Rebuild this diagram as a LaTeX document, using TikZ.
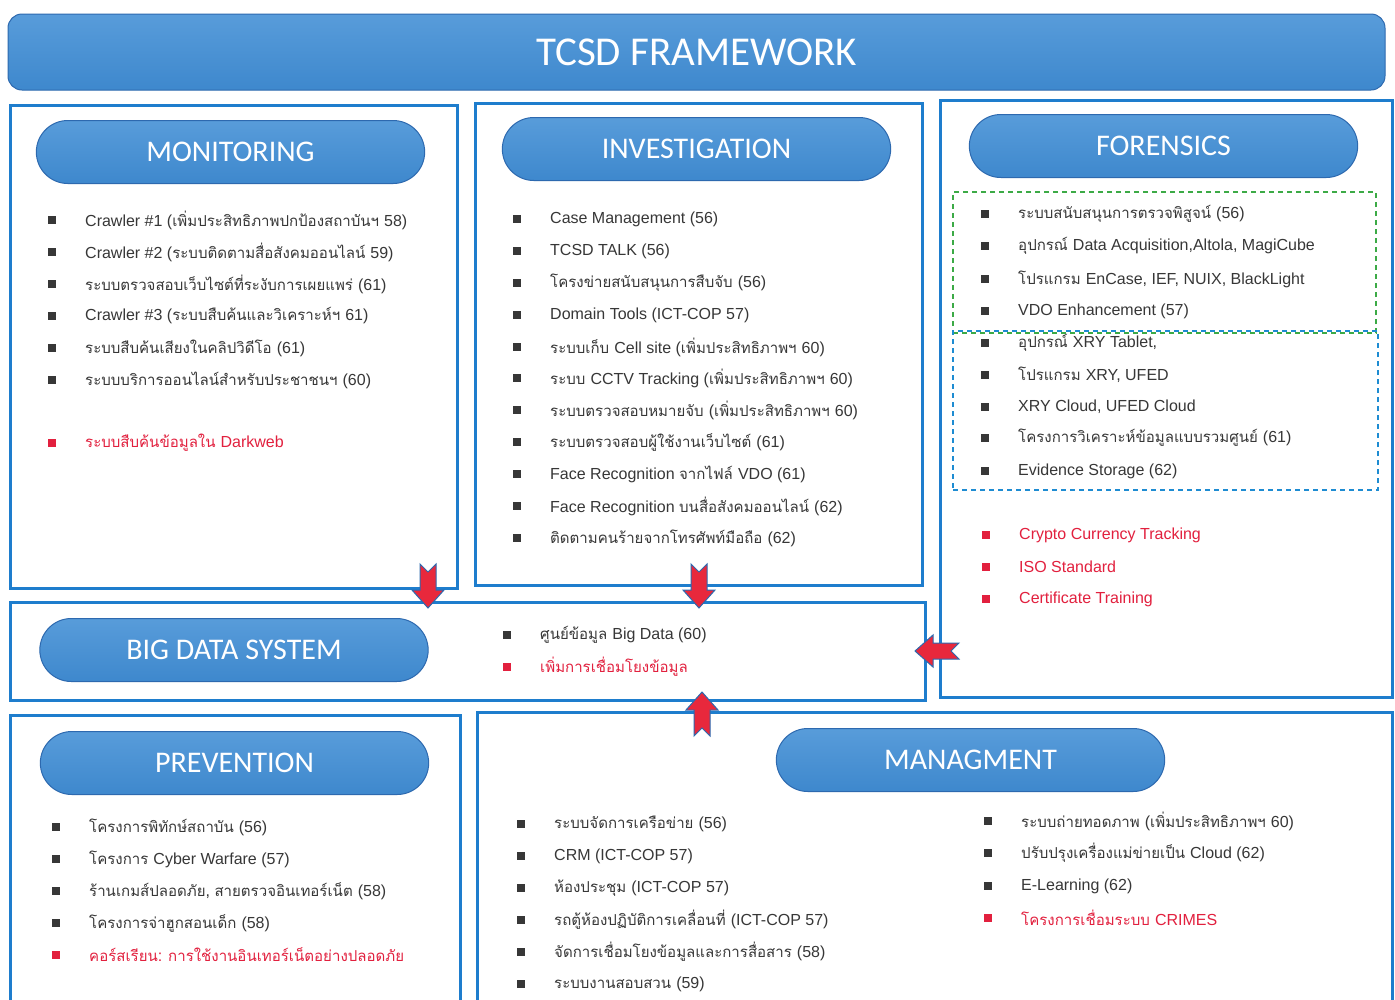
\documentclass[tikz,border=0pt]{standalone}
\usepackage{fontspec}
\usetikzlibrary{shapes.misc}
\setmainfont{Liberation Sans}
\newfontfamily\thaifont[Script=Thai,Scale=0.94]{Loma}
\newfontfamily\latinfont{Liberation Sans}
\newfontfamily\headfont{Carlito}
\newXeTeXintercharclass\thaiclass
\newcount\tmpc
\tmpc="0E00\relax
\loop\ifnum\tmpc<"0E80\relax \XeTeXcharclass\tmpc=\thaiclass\relax \advance\tmpc by 1\relax \repeat
\XeTeXinterchartoks 0 \thaiclass = {\thaifont}
\XeTeXinterchartoks \thaiclass 0 = {\latinfont}
\XeTeXinterchartoks 4095 \thaiclass = {\thaifont}
\XeTeXinterchartoks 4095 0 = {\latinfont}
\newcommand\thaimix{\XeTeXinterchartokenstate=1\relax}
\definecolor{panelblue}{RGB}{30,125,205}
\definecolor{pillfill}{RGB}{62,136,205}
\definecolor{pilltop}{RGB}{88,156,218}
\definecolor{pillline}{RGB}{45,105,175}
\definecolor{txtgray}{RGB}{55,55,55}
\definecolor{txtred}{RGB}{226,32,62}
\definecolor{arrred}{RGB}{232,40,60}
\definecolor{dashgreen}{RGB}{60,170,70}
\definecolor{dashblue}{RGB}{30,140,210}
\tikzset{
  panel/.style={draw=panelblue, line width=3pt, rectangle, inner sep=0pt},
  pill/.style={rounded rectangle, draw=pillline, line width=1pt, top color=pilltop, bottom color=pillfill,
     minimum width=395pt, minimum height=63pt, text=white, font=\headfont\fontsize{30}{34}\selectfont},
  bul/.style={rectangle, fill=txtgray, minimum size=7.5pt, inner sep=0pt},
  rbul/.style={rectangle, fill=txtred, minimum size=7.5pt, inner sep=0pt},
  itemtxt/.style={anchor=west, inner sep=0pt, text=txtgray, font=\latinfont\fontsize{16}{19}\selectfont},
  ritemtxt/.style={itemtxt, text=txtred},
  barrow/.style={fill=arrred, draw=pillline, line width=1pt, line join=miter},
  dashbox/.style={rectangle, dashed, line width=1.4pt, inner sep=0pt, dash pattern=on 5pt off 4pt}
}
\newcommand\bitem[4]{\node[bul] (#1b) at (#2,#3) {}; \node[itemtxt] (#1) at (#2+33,#3) {\thaimix #4};}
\newcommand\ritem[4]{\node[rbul] (#1b) at (#2,#3) {}; \node[ritemtxt] (#1) at (#2+33,#3) {\thaimix #4};}
\newcommand\blockarrow[2]{\begin{scope}[shift={(#1)}, rotate=#2]
  \draw[barrow] (0,0) -- (16,-18) -- (8,-18) -- (8,-44) -- (0,-36) -- (-8,-44) -- (-8,-18) -- (-16,-18) -- cycle;
\end{scope}}
\begin{document}
\begin{tikzpicture}[x=1pt,y=-1pt]
\useasboundingbox[fill=white] (0,0) rectangle (1395,999);
% title
\node[rounded corners=14pt, rectangle, draw=pillline, line width=1pt, top color=pilltop, bottom color=pillfill,
  minimum width=1377pt, minimum height=76pt, text=white, font=\headfont\fontsize{41}{46}\selectfont]
  (title) at (696.5,52) {TCSD FRAMEWORK};
% panels
\node[panel, minimum width=447pt, minimum height=483pt] (monbox) at (233.5,346.5) {};
\node[panel, minimum width=447pt, minimum height=482pt] (invbox) at (698.5,344) {};
\node[panel, minimum width=452pt, minimum height=597pt] (forbox) at (1166,398.5) {};
\node[panel, minimum width=915pt, minimum height=98pt] (bigbox) at (467.5,651) {};
\node[panel, minimum width=450pt, minimum height=305pt] (prevbox) at (235,867.5) {};
\node[panel, minimum width=915pt, minimum height=308pt] (mgmtbox) at (934.5,866) {};
% pills
\node[pill] (monpill) at (230.5,152) {MONITORING};
\node[pill] (invpill) at (696.5,149) {INVESTIGATION};
\node[pill] (forpill) at (1163.5,146) {FORENSICS};
\node[pill] (bigpill) at (234,650) {BIG DATA SYSTEM};
\node[pill] (prevpill) at (234.5,763) {PREVENTION};
\node[pill] (mgmtpill) at (970.5,760) {MANAGMENT};
% dashed boxes
\node[dashbox, draw=dashgreen, minimum width=423pt, minimum height=141pt] (gbox) at (1164.5,262.5) {};
\node[dashbox, draw=dashblue, minimum width=425pt, minimum height=159pt] (bbox) at (1165.5,410.5) {};
% monitoring
\bitem{m1}{52}{220}{Crawler \#1 (เพิ่มประสิทธิภาพปกป้องสถาบันฯ 58)}
\bitem{m2}{52}{252}{Crawler \#2 (ระบบติดตามสื่อสังคมออนไลน์ 59)}
\bitem{m3}{52}{284}{ระบบตรวจสอบเว็บไซต์ที่ระงับการเผยแพร่ (61)}
\bitem{m4}{52}{316}{Crawler \#3 (ระบบสืบค้นและวิเคราะห์ฯ 61)}
\bitem{m5}{52}{348}{ระบบสืบค้นเสียงในคลิปวิดีโอ (61)}
\bitem{m6}{52}{380}{ระบบบริการออนไลน์สำหรับประชาชนฯ (60)}
\ritem{m7}{52}{443}{ระบบสืบค้นข้อมูลใน Darkweb}
% investigation
\bitem{i1}{517}{219}{Case Management (56)}
\bitem{i2}{517}{251}{TCSD TALK (56)}
\bitem{i3}{517}{283}{โครงข่ายสนับสนุนการสืบจับ (56)}
\bitem{i4}{517}{315}{Domain Tools (ICT-COP 57)}
\bitem{i5}{517}{347}{ระบบเก็บ Cell site (เพิ่มประสิทธิภาพฯ 60)}
\bitem{i6}{517}{378}{ระบบ CCTV Tracking (เพิ่มประสิทธิภาพฯ 60)}
\bitem{i7}{517}{410}{ระบบตรวจสอบหมายจับ (เพิ่มประสิทธิภาพฯ 60)}
\bitem{i8}{517}{442}{ระบบตรวจสอบผู้ใช้งานเว็บไซต์ (61)}
\bitem{i9}{517}{474}{Face Recognition จากไฟล์ VDO (61)}
\bitem{i10}{517}{506}{Face Recognition บนสื่อสังคมออนไลน์ (62)}
\bitem{i11}{517}{538}{ติดตามคนร้ายจากโทรศัพท์มือถือ (62)}
% forensics
\bitem{f1}{985}{214}{ระบบสนับสนุนการตรวจพิสูจน์ (56)}
\bitem{f2}{985}{246}{อุปกรณ์ Data Acquisition,Altola, MagiCube}
\bitem{f3}{985}{279}{โปรแกรม EnCase, IEF, NUIX, BlackLight}
\bitem{f4}{985}{311}{VDO Enhancement (57)}
\bitem{f5}{985}{343}{อุปกรณ์ XRY Tablet,}
\bitem{f6}{985}{375}{โปรแกรม XRY, UFED}
\bitem{f7}{985}{407}{XRY Cloud, UFED Cloud}
\bitem{f8}{985}{438}{โครงการวิเคราะห์ข้อมูลแบบรวมศูนย์ (61)}
\bitem{f9}{985}{471}{Evidence Storage (62)}
\ritem{f10}{986}{535}{Crypto Currency Tracking}
\ritem{f11}{986}{567}{ISO Standard}
\ritem{f12}{986}{599}{Certificate Training}
% big data
\bitem{b1}{507}{635}{ศูนย์ข้อมูล Big Data (60)}
\ritem{b2}{507}{667}{เพิ่มการเชื่อมโยงข้อมูล}
% prevention
\bitem{p1}{56}{827}{โครงการพิทักษ์สถาบัน (56)}
\bitem{p2}{56}{859}{โครงการ Cyber Warfare (57)}
\bitem{p3}{56}{891}{ร้านเกมส์ปลอดภัย, สายตรวจอินเทอร์เน็ต (58)}
\bitem{p4}{56}{923}{โครงการจ่าฮูกสอนเด็ก (58)}
\ritem{p5}{56}{955}{คอร์สเรียน: การใช้งานอินเทอร์เน็ตอย่างปลอดภัย}
% management
\bitem{g1}{521}{824}{ระบบจัดการเครือข่าย (56)}
\bitem{g2}{521}{856}{CRM (ICT-COP 57)}
\bitem{g3}{521}{888}{ห้องประชุม (ICT-COP 57)}
\bitem{g4}{521}{920}{รถตู้ห้องปฏิบัติการเคลื่อนที่ (ICT-COP 57)}
\bitem{g5}{521}{952}{จัดการเชื่อมโยงข้อมูลและการสื่อสาร (58)}
\bitem{g6}{521}{984}{ระบบงานสอบสวน (59)}
\bitem{h1}{988}{821}{ระบบถ่ายทอดภาพ (เพิ่มประสิทธิภาพฯ 60)}
\bitem{h2}{988}{853}{ปรับปรุงเครื่องแม่ข่ายเป็น Cloud (62)}
\bitem{h3}{988}{886}{E-Learning (62)}
\ritem{h4}{988}{918}{โครงการเชื่อมระบบ CRIMES}
% arrows into big data box
\coordinate (a1) at (428,608);
\coordinate (a2) at (699,608);
\coordinate (a3) at (702,692);
\coordinate (a4) at (915,651);
\blockarrow{a1}{0}
\blockarrow{a2}{0}
\blockarrow{a3}{180}
\blockarrow{a4}{-90}
\end{tikzpicture}
\end{document}
